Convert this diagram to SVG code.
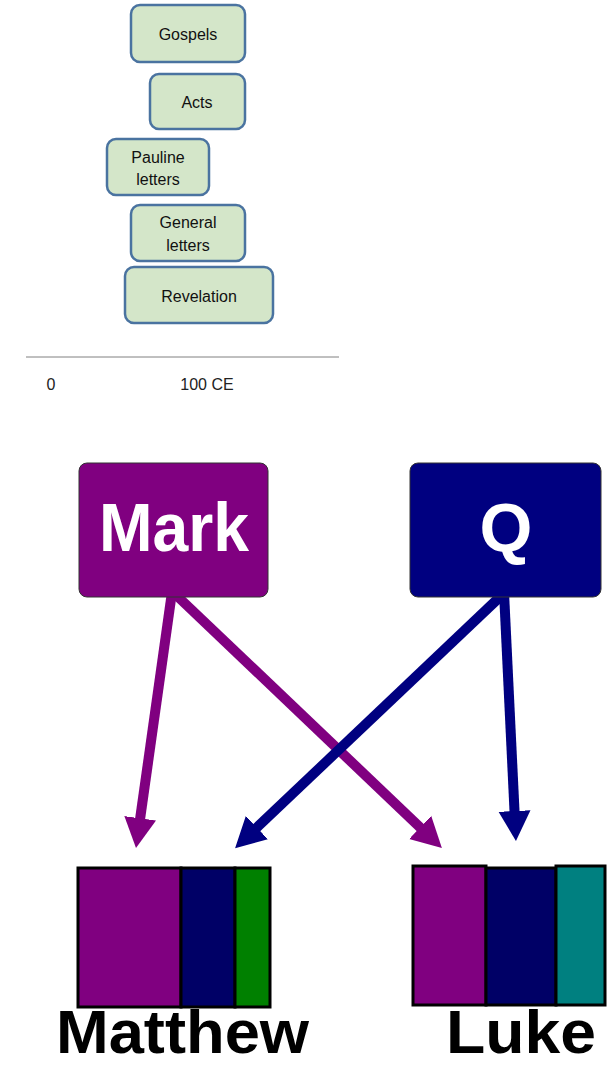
<svg xmlns="http://www.w3.org/2000/svg" width="611" height="1066" viewBox="0 0 611 1066">
<style>
.bk rect{fill:#d4e6c9;stroke:#4a73a0;stroke-width:2.5}
.bk text{font-family:"Liberation Sans",Arial,sans-serif;font-size:16px;fill:#111;text-anchor:middle}
.ax{font-family:"Liberation Sans",Arial,sans-serif;font-size:16px;fill:#222;text-anchor:middle}
.src text{font-family:"Liberation Sans",Arial,sans-serif;font-weight:bold;font-size:68px;fill:#fff;text-anchor:middle}
.gos rect{stroke:#000;stroke-width:3}
.lbl{font-family:"Liberation Sans",Arial,sans-serif;font-weight:bold;font-size:61px;fill:#000}
.cp{stroke:#800080;stroke-width:10;fill:none}
.cn{stroke:#000080;stroke-width:10;fill:none}
</style>
<defs>
<marker id="hp" markerUnits="userSpaceOnUse" markerWidth="32" markerHeight="34" viewBox="0 -17 32 34" refX="2" refY="0" orient="auto"><path d="M0,-16 L30,0 L0,16 z" fill="#800080"/></marker>
<marker id="hn" markerUnits="userSpaceOnUse" markerWidth="32" markerHeight="34" viewBox="0 -17 32 34" refX="2" refY="0" orient="auto"><path d="M0,-16 L30,0 L0,16 z" fill="#000080"/></marker>
</defs>
<g id="gospels" class="bk"><rect x="131" y="5" width="114" height="57" rx="9"/><text x="188" y="40">Gospels</text></g>
<g id="acts" class="bk"><rect x="150" y="74" width="95" height="55" rx="9"/><text x="197" y="108">Acts</text></g>
<g id="pauline" class="bk"><rect x="107" y="139" width="102" height="56" rx="9"/><text x="158" y="163">Pauline</text><text x="158" y="185">letters</text></g>
<g id="general" class="bk"><rect x="131" y="205" width="114" height="56" rx="9"/><text x="188" y="228">General</text><text x="188" y="251">letters</text></g>
<g id="revelation" class="bk"><rect x="125" y="267" width="148" height="56" rx="9"/><text x="199" y="302">Revelation</text></g>
<g id="axis"><line x1="26" y1="357" x2="339" y2="357" stroke="#808080" stroke-width="1"/><text class="ax" x="51" y="390">0</text><text class="ax" x="207" y="390">100 CE</text></g>
<g id="connectors">
<line class="cp" x1="172" y1="592" x2="139.9" y2="820.3" marker-end="url(#hp)"/>
<line class="cp" x1="175" y1="594" x2="421.6" y2="828.8" marker-end="url(#hp)"/>
<line class="cn" x1="503" y1="594" x2="255.4" y2="828.9" marker-end="url(#hn)"/>
<line class="cn" x1="504" y1="592" x2="514.6" y2="813" marker-end="url(#hn)"/>
</g>
<g id="mark" class="src"><rect x="79" y="463" width="189" height="134" rx="8" fill="#800080" stroke="#333" stroke-width="1"/><text x="174" y="551" textLength="150" lengthAdjust="spacingAndGlyphs">Mark</text></g>
<g id="q" class="src"><rect x="410" y="463" width="191" height="134" rx="8" fill="#000080" stroke="#333" stroke-width="1"/><text x="506" y="551">Q</text></g>
<g id="matthew" class="gos"><rect x="78" y="868" width="103" height="139" fill="#800080"/><rect x="181" y="868" width="54" height="139" fill="#000066"/><rect x="235" y="868" width="35" height="139" fill="#008000"/><text class="lbl" x="56" y="1053" textLength="253" lengthAdjust="spacingAndGlyphs">Matthew</text></g>
<g id="luke" class="gos"><rect x="413" y="866" width="73" height="139" fill="#800080"/><rect x="486" y="868" width="70" height="137" fill="#000066"/><rect x="556" y="866" width="49" height="139" fill="#008080"/><text class="lbl" x="446" y="1053" textLength="150" lengthAdjust="spacingAndGlyphs">Luke</text></g>
</svg>
